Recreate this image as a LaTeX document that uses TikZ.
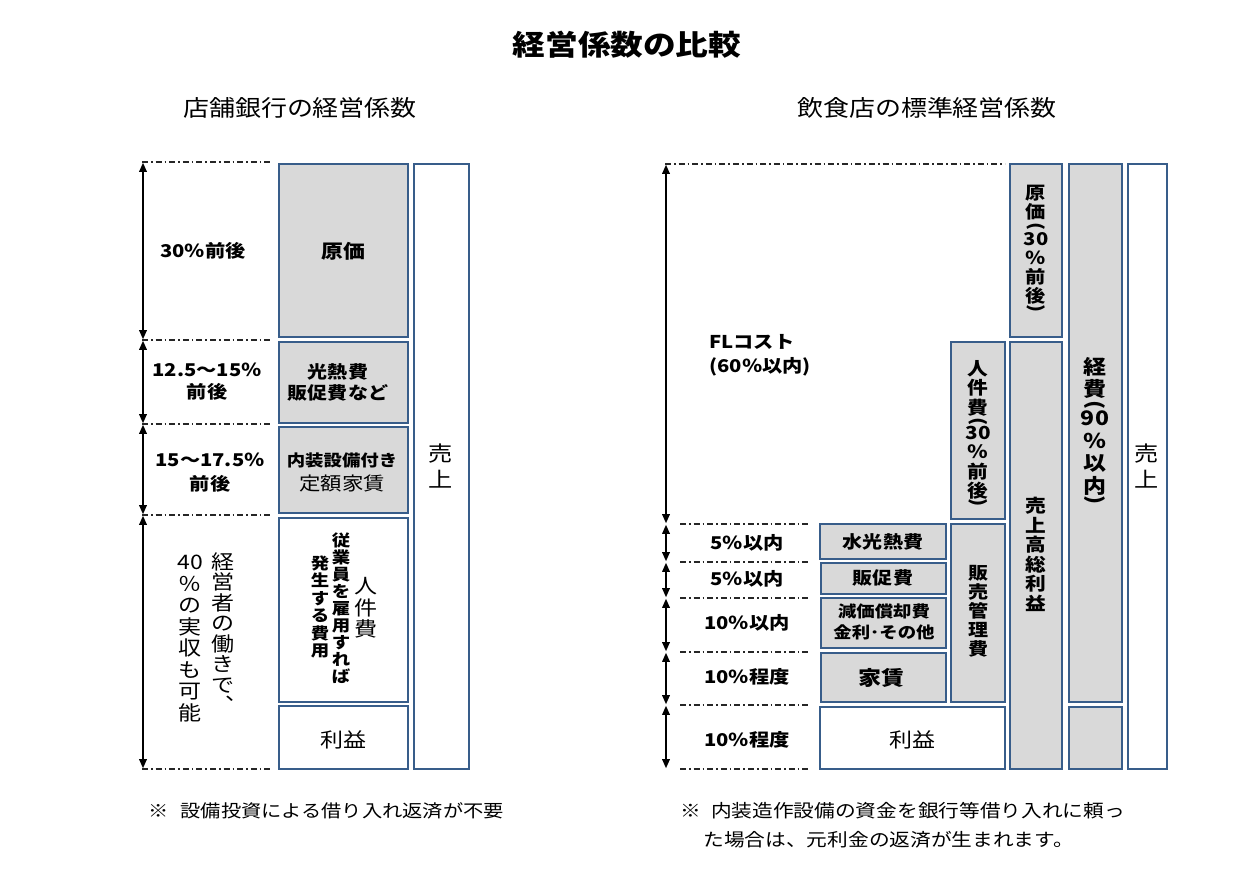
\documentclass[tikz,border=0pt]{standalone}
\usepackage{fontspec}
\usepackage{graphicx}
\setmainfont{Noto Sans CJK JP}[FakeStretch=1.15]
\usetikzlibrary{arrows.meta,fit}
\definecolor{boxblue}{HTML}{385D8A}
\definecolor{boxgray}{HTML}{D9D9D9}
\newcommand{\vpl}{\rotatebox[origin=c]{-90}{(}}
\newcommand{\vpr}{\rotatebox[origin=c]{-90}{)}}
\newcommand{\fs}[2]{\fontsize{#1}{#2}\selectfont}
\tikzset{
  bx/.style={draw=boxblue, line width=0.8pt, inner sep=0pt, fill=white},
  gbx/.style={bx, fill=boxgray},
  lvl/.style={draw=black!85, line width=0.6pt, dash pattern=on 3pt off 1.5pt on 0.8pt off 1.5pt},
  dim/.style={line width=0.7pt, {Triangle[length=4.5pt,width=3.8pt]}-{Triangle[length=4.5pt,width=3.8pt]}, shorten <=0.4pt, shorten >=0.4pt},
  vtext/.style={anchor=north, align=center, inner sep=0pt},
  lab/.style={align=center, inner sep=0pt},
}
\begin{document}
\begin{tikzpicture}[x=0.5pt,y=-0.5pt]
\useasboundingbox[fill=white] (0,0) rectangle (1250,884);

% titles
\node[lab, font=\fs{14.2}{16}\bfseries] (title) at (627,45) {経営係数の比較};
\node[lab, font=\fs{11.3}{13}] (subl) at (300,108) {店舗銀行の経営係数};
\node[lab, font=\fs{11.3}{13}] (subr) at (927,108) {飲食店の標準経営係数};

% ---------- left diagram ----------
\foreach \n/\y in {0/162,1/340,2/424,3/515,4/769}{
  \coordinate (la\n) at (143,\y);
  \coordinate (ls\n) at (142,\y);
  \coordinate (le\n) at (272,\y);
  \draw[lvl] (ls\n) -- (le\n);
}
\draw[dim] (la0) -- (la1);
\draw[dim] (la1) -- (la2);
\draw[dim] (la2) -- (la3);
\draw[dim] (la3) -- (la4);

\node[gbx, fit={(279,164)(408,337)}] (lgenka) {};
\node[gbx, fit={(279,342)(408,423)}] (lkonetsu) {};
\node[gbx, fit={(279,427)(408,513)}] (lnaiso) {};
\node[bx, fit={(279,518)(408,702)}] (ljinken) {};
\node[bx, fit={(279,706)(408,769)}] (lrieki) {};
\node[bx, fit={(414,164)(469,769)}] (luriage) {};

\node[lab, font=\fs{8.8}{11}\bfseries] (lt1) at (203,251) {30％前後};
\node[lab, font=\fs{8.8}{11}\bfseries] (lt2) at (207,382) {12.5～15％\\前後};
\node[lab, font=\fs{8.8}{12}\bfseries] (lt3) at (210,473) {15～17.5％\\前後};

\node[lab, font=\fs{9.5}{11}\bfseries] (lgenkat) at (343,251) {原価};
\node[lab, font=\fs{8.7}{10.5}\bfseries] (lkonetsut) at (338,382) {光熱費\\販促費など};
\node[lab, font=\fs{9.3}{12}] (lnaisot) at (342,472) {{\fs{8}{12}\bfseries 内装設備付き}\\定額家賃};
\node[lab, font=\fs{10}{12}] (lriekit) at (343,740) {利益};
\node[lab, font=\fs{10.5}{13}] (luriaget) at (441,466) {売\\上};

\node[vtext, font=\fs{10}{10.75}] (ljk1) at (366,577) {人\\件\\費};
\node[vtext, font=\fs{8}{8.5}\bfseries] (ljk2) at (341,532) {従\\業\\員\\を\\雇\\用\\す\\れ\\ば};
\node[vtext, font=\fs{8}{8.75}\bfseries] (ljk3) at (320,555) {発\\生\\す\\る\\費\\用};
\node[vtext, font=\fs{10}{10.25}] (lkei1) at (223,552) {経\\営\\者\\の\\働\\き\\で\\︑};
\node[vtext, font=\fs{10}{10.75}] (lkei2) at (190,555) {40\\％\\の\\実\\収\\も\\可\\能};

% ---------- right diagram ----------
\coordinate (ra0) at (666,164);
\coordinate (rs0) at (665,164);
\coordinate (re0) at (1005,164);
\draw[lvl] (rs0) -- (re0);
\foreach \n/\y in {1/524,2/562,3/598,4/652,5/705,6/769}{
  \coordinate (ra\n) at (666,\y);
  \coordinate (rs\n) at (680,\y);
  \coordinate (re\n) at (809,\y);
  \draw[lvl] (rs\n) -- (re\n);
}
\draw[dim] (ra0) -- (ra1);
\draw[dim] (ra1) -- (ra2);
\draw[dim] (ra2) -- (ra3);
\draw[dim] (ra3) -- (ra4);
\draw[dim] (ra4) -- (ra5);
\draw[dim] (ra5) -- (ra6);

\node[gbx, fit={(1010,164)(1062,337)}] (rgenka) {};
\node[gbx, fit={(1069,164)(1122,702)}] (rkeihi) {};
\node[gbx, fit={(1069,707)(1122,769)}] (rkeihib) {};
\node[bx, fit={(1128,164)(1167,769)}] (ruriage) {};
\node[gbx, fit={(951,342)(1005,519)}] (rjinken) {};
\node[gbx, fit={(1010,342)(1062,769)}] (rsori) {};
\node[gbx, fit={(820,524)(946,559)}] (rsui) {};
\node[gbx, fit={(821,563)(946,594)}] (rhan) {};
\node[gbx, fit={(821,598)(946,648)}] (rgen) {};
\node[gbx, fit={(821,653)(946,702)}] (ryachin) {};
\node[gbx, fit={(951,524)(1005,702)}] (rhankan) {};
\node[bx, fit={(820,707)(1005,769)}] (rrieki) {};

\node[lab, anchor=west, align=left, font=\fs{8.8}{12}\bfseries] (rfl) at (709,355) {FLコスト\\(60％以内)};
\node[lab, font=\fs{8.8}{11}\bfseries] (rp1) at (747,543) {5％以内};
\node[lab, font=\fs{8.8}{11}\bfseries] (rp2) at (747,579) {5％以内};
\node[lab, font=\fs{8.8}{11}\bfseries] (rp3) at (747,623) {10％以内};
\node[lab, font=\fs{8.8}{11}\bfseries] (rp4) at (747,677) {10％程度};
\node[lab, font=\fs{8.8}{11}\bfseries] (rp5) at (747,740) {10％程度};

\node[lab, font=\fs{8.7}{10}\bfseries] (rsuit) at (883,542) {水光熱費};
\node[lab, font=\fs{8.7}{10}\bfseries] (rhant) at (883,578) {販促費};
\node[lab, font=\fs{8}{10.5}\bfseries] (rgent) at (884,622) {減価償却費\\金利･その他};
\node[lab, font=\fs{10}{12}\bfseries] (ryachint) at (881,678) {家賃};
\node[lab, font=\fs{10}{12}] (rriekit) at (912,740) {利益};
\node[lab, font=\fs{10.5}{13}] (ruriaget) at (1147,466) {売\\上};

\node[vtext, font=\fs{8.7}{9.5}\bfseries] (rhankant) at (978,565) {販\\売\\管\\理\\費};
\node[vtext, font=\fs{9}{9.75}\bfseries] (rjinkent) at (978,360) {人\\件\\費\\[-3.5pt]\vpl\\[-3.5pt]30\\％\\前\\後\\[-4.5pt]\vpr};
\node[vtext, font=\fs{8.8}{9.6}\bfseries] (rgenkat) at (1036,185) {原\\価\\[-3pt]\vpl\\[-3pt]30\\％\\前\\後\\[-4pt]\vpr};
\node[vtext, font=\fs{9}{9.75}\bfseries] (rsorit) at (1036,497) {売\\上\\高\\総\\利\\益};
\node[vtext, font=\fs{10}{11.25}\bfseries] (rkeihit) at (1095,357) {経\\費\\[-4pt]\vpl\\[-4pt]90\\％\\以\\内\\[-5pt]\vpr};

% notes
\node[lab, anchor=west, font=\fs{8.8}{11}] (noteL) at (148,811) {※\hspace{6pt}設備投資による借り入れ返済が不要};
\node[lab, anchor=west, font=\fs{9}{11}] (noteR1) at (680,811) {※\hspace{5pt}内装造作設備の資金を銀行等借り入れに頼っ};
\node[lab, anchor=west, font=\fs{9}{11}] (noteR2) at (703,840) {た場合は、元利金の返済が生まれます。};
\end{tikzpicture}
\end{document}
